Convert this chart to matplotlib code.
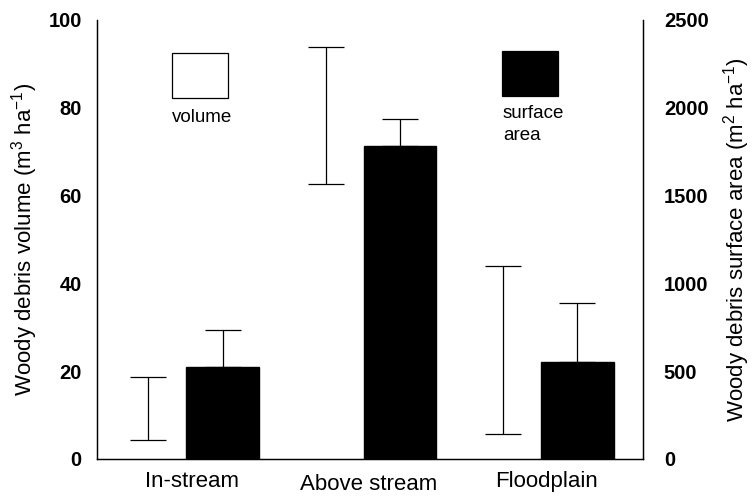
import matplotlib
matplotlib.use("Agg")
import matplotlib.pyplot as plt
import matplotlib.transforms as mtransforms
import numpy as np
from matplotlib.patches import Rectangle

plt.rcParams['font.family'] = ['Liberation Sans', 'DejaVu Sans']
plt.rcParams['mathtext.fontset'] = 'custom'
plt.rcParams['mathtext.rm'] = 'Liberation Sans'
plt.rcParams['mathtext.it'] = 'Liberation Sans:italic'
plt.rcParams['mathtext.bf'] = 'Liberation Sans:bold'

categories = ["In-stream", "Above stream", "Floodplain"]
volume_mean = [11.5, 78.3, 24.8]
volume_err = [7.2, 15.6, 19.1]
area_mean = [525, 1783, 555]
area_err = [208, 152, 333]

fig = plt.figure(figsize=(7.54, 4.96), dpi=100)
ax = fig.add_axes([0.1286, 0.0746, 0.7242, 0.8851])
ax2 = ax.twinx()

x = np.arange(len(categories))
w = 0.41
ax.bar(x - w / 2 - 0.005, volume_mean, width=w, color='white', edgecolor='none',
       yerr=volume_err, error_kw=dict(ecolor='black', elinewidth=0.9, capsize=13, capthick=0.9))
ax2.bar(x + w / 2 + 0.005, area_mean, width=w, color='black', edgecolor='black',
        yerr=[np.zeros(len(area_err)), area_err],
        error_kw=dict(ecolor='black', elinewidth=0.9, capsize=13, capthick=0.9))

ax.set_xlim(-0.5, 2.58)
ax.set_ylim(0, 100)
ax2.set_ylim(0, 2500)

ax.set_yticks([0, 20, 40, 60, 80, 100])
ax2.set_yticks([0, 500, 1000, 1500, 2000, 2500])
ax.set_xticks(x + 0.035)
ax.set_xticklabels(categories, fontsize=16)

for a in (ax, ax2):
    a.spines['top'].set_visible(False)
    for s in a.spines.values():
        s.set_linewidth(0.9)
    a.tick_params(length=0)
ax.tick_params(axis='y', pad=11)
ax2.tick_params(axis='y', pad=15)
ax.tick_params(axis='x', pad=9)
for lab in ax.get_yticklabels() + ax2.get_yticklabels():
    lab.set_fontweight('bold')
    lab.set_fontsize(14.5)

# "Above stream" sits a little lower in the reference
xl = ax.get_xticklabels()
xl[1].set_transform(xl[1].get_transform() +
                    mtransforms.ScaledTranslation(0, -2.5 / 100, fig.dpi_scale_trans))

ax.set_ylabel("Woody debris volume (m$^3$ ha$^{-1}$)", fontsize=16, labelpad=6)
ax2.set_ylabel("Woody debris surface area (m$^2$ ha$^{-1}$)", fontsize=16, labelpad=9)

fig.patches.append(Rectangle((172 / 754, 1 - 98.3 / 496), 55.7 / 754, 45 / 496,
                             transform=fig.transFigure, facecolor='white',
                             edgecolor='black', linewidth=0.9))
fig.patches.append(Rectangle((502 / 754, 1 - 95.7 / 496), 56 / 754, 45 / 496,
                             transform=fig.transFigure, facecolor='black',
                             edgecolor='black', linewidth=0.9))
fig.text(172 / 754, 1 - 117 / 496, "volume", fontsize=13.5, va='center', ha='left')
fig.text(503 / 754, 1 - 124.5 / 496, "surface\narea", fontsize=13.5, va='center', ha='left',
         linespacing=1.45)

fig.savefig("out.png", dpi=100)
